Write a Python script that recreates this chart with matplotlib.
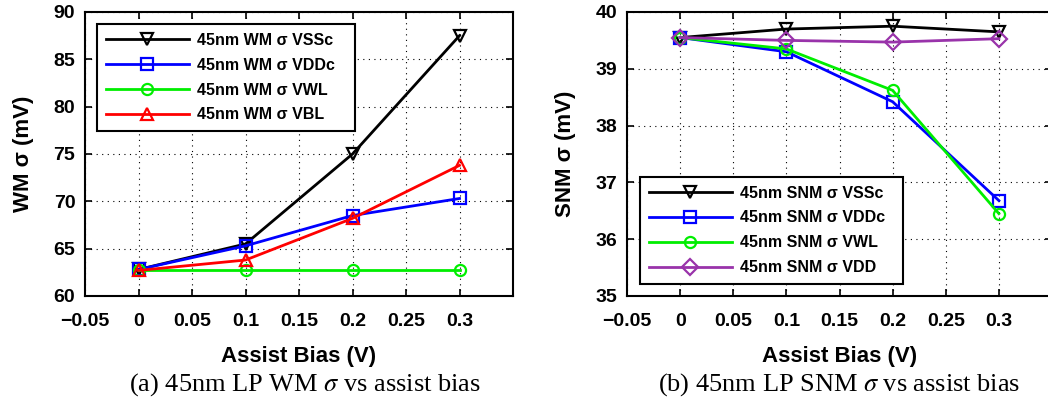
import numpy as np
import matplotlib
matplotlib.use('Agg')
import matplotlib.pyplot as plt

plt.rcParams['font.family'] = ['Liberation Sans', 'DejaVu Sans']
plt.rcParams['mathtext.fontset'] = 'stix'

bias = [0, 0.1, 0.2, 0.3]
xticks = [-0.05, 0, 0.05, 0.1, 0.15, 0.2, 0.25, 0.3]

# (a) write margin sigma
wm_vssc = [62.8, 65.5, 75.0, 87.5]
wm_vddc = [62.8, 65.3, 68.5, 70.3]
wm_vwl = [62.7, 62.7, 62.7, 62.7]
wm_vbl = [62.7, 63.8, 68.2, 73.8]
wm_yticks = [60, 65, 70, 75, 80, 85, 90]

# (b) static noise margin sigma
snm_vssc = [39.55, 39.70, 39.75, 39.65]
snm_vddc = [39.55, 39.30, 38.42, 36.68]
snm_vwl = [39.55, 39.35, 38.62, 36.45]
snm_vdd = [39.55, 39.50, 39.47, 39.53]
snm_yticks = [35, 36, 37, 38, 39, 40]

fig = plt.figure(figsize=(10.48, 4.05), dpi=100)
ax1 = fig.add_axes([85/1048, 109/405, 428/1048, 284/405])
ax2 = fig.add_axes([627/1048, 109/405, 425/1048, 284/405])

lw = 2
ms = 8
sty = dict(linewidth=lw, markersize=ms, markerfacecolor='none', markeredgewidth=1.6)

# trailing spaces give the MATLAB-like right padding inside the legend box
ax1.plot(bias, wm_vssc, color='black', marker='v', label='45nm WM σ VSSc   ', **sty)
ax1.plot(bias, wm_vddc, color='#0000ff', marker='s', label='45nm WM σ VDDc', **sty)
ax1.plot(bias, wm_vwl, color='#00ee00', marker='o', label='45nm WM σ VWL', **sty)
ax1.plot(bias, wm_vbl, color='#ff0000', marker='^', label='45nm WM σ VBL', **sty)

ax2.plot(bias, snm_vssc, color='black', marker='v', label='45nm SNM σ VSSc', **sty)
ax2.plot(bias, snm_vddc, color='#0000ff', marker='s', label='45nm SNM σ VDDc  ', **sty)
ax2.plot(bias, snm_vwl, color='#00ee00', marker='o', label='45nm SNM σ VWL', **sty)
ax2.plot(bias, snm_vdd, color='#9933aa', marker='D', label='45nm SNM σ VDD', **sty)

for ax, yt, ylab in [(ax1, wm_yticks, 'WM σ (mV)'), (ax2, snm_yticks, 'SNM σ (mV)')]:
    ax.set_xlim(-0.05, 0.35)
    ax.set_xticks(xticks)
    ax.set_xticklabels(['\u22120.05', '0', '0.05', '0.1', '0.15', '0.2', '0.25', '0.3'])
    ax.set_ylim(yt[0], yt[-1])
    ax.set_yticks(yt)
    ax.grid(True, linestyle=(0, (1, 4)), color='black', linewidth=0.8)
    ax.tick_params(direction='in', top=True, right=True, labelsize=14, width=1.2, length=5)
    ax.tick_params(axis='x', pad=12)
    ax.tick_params(axis='y', pad=7)
    for lab in ax.get_xticklabels() + ax.get_yticklabels():
        lab.set_fontweight('bold')
    for s in ax.spines.values():
        s.set_linewidth(1.5)
    ax.set_xlabel('Assist Bias (V)', fontsize=16, fontweight='bold', labelpad=12)
    ax.set_ylabel(ylab, fontsize=16, fontweight='bold', labelpad=14)

leg_kw = dict(prop={'weight': 'bold', 'size': 11.5}, fancybox=False,
              edgecolor='black', framealpha=1, handlelength=5.2, borderpad=0.55,
              labelspacing=0.62, handletextpad=0.5, borderaxespad=0)
l1 = ax1.legend(loc='upper left', bbox_to_anchor=(0.028, 0.958), **leg_kw)
l2 = ax2.legend(loc='lower left', bbox_to_anchor=(0.031, 0.042), **leg_kw)
for l in (l1, l2):
    l.get_frame().set_linewidth(1.5)

fig.text(305/1048, 1 - 385/405, '(a) 45nm LP WM $\\sigma$ vs assist bias', ha='center', va='center',
         fontsize=19, family='Liberation Serif')
fig.text(839/1048, 1 - 385/405, '(b) 45nm LP SNM $\\sigma$ vs assist bias', ha='center', va='center',
         fontsize=19, family='Liberation Serif')

fig.savefig('out.png', dpi=100)
